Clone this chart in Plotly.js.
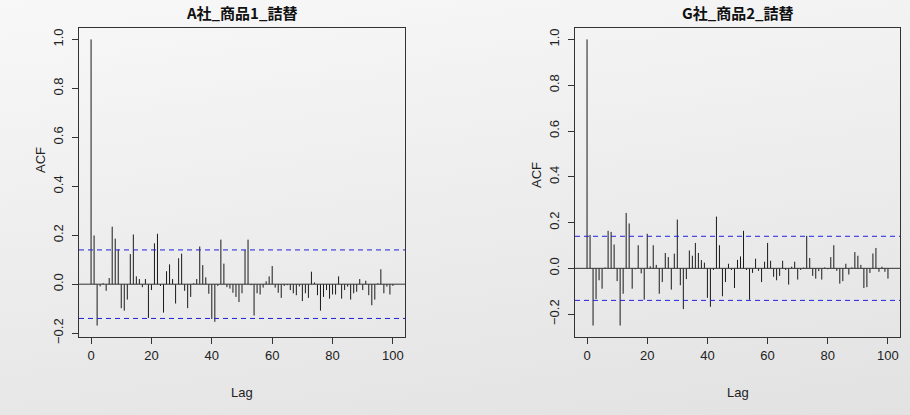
<!DOCTYPE html>
<html>
<head>
<meta charset="utf-8">
<script src="https://cdn.plot.ly/plotly-3.0.1.min.js"></script>
<style>
  html, body { margin: 0; padding: 0; }
  body { width: 910px; height: 415px; background: linear-gradient(172deg, #f8f8f8 0%, #eeeeee 45%, #e2e2e2 100%); }
  #chart { width: 910px; height: 415px; }
</style>
</head>
<body>
<div id="chart"></div>
<script>
// ---- data ----
const titles = ["A社_商品1_詰替", "G社_商品2_詰替"];
const maxLag = 100;
const lags = [];
for (let i = 0; i <= maxLag; i++) lags.push(i);

const acfA = [
  1.0, 0.199, -0.169, -0.009, 0.004, -0.027, 0.025, 0.235, 0.186, 0.142,
  -0.098, -0.108, -0.063, 0.123, 0.203, 0.032, 0.021, -0.012, 0.021, -0.138,
  -0.024, 0.167, 0.206, -0.007, -0.116, 0.053, 0.081, 0.021, -0.079, 0.106,
  0.125, -0.027, -0.098, -0.052, 0.004, 0.021, 0.154, 0.078, 0.028, -0.039,
  -0.142, -0.154, -0.007, 0.182, 0.084, -0.012, -0.018, -0.035, -0.052, -0.073,
  -0.037, 0.14, 0.182, -0.004, -0.128, -0.037, -0.042, -0.014, 0.012, 0.032,
  0.074, -0.014, -0.035, -0.056, -0.007, -0.004, -0.024, -0.037, -0.045, -0.009,
  -0.069, -0.037, -0.056, 0.051, 0.007, -0.045, -0.108, -0.052, -0.024, -0.059,
  -0.042, -0.042, 0.032, -0.059, -0.024, -0.01, -0.063, -0.037, -0.031, 0.021,
  -0.024, 0.014, -0.045, -0.086, -0.063, 0.004, 0.061, -0.037, -0.01, -0.042,
  -0.007
];
const acfG = [
  1.0, 0.146, -0.25, -0.134, -0.052, -0.089, 0.004, 0.164, 0.159, 0.104,
  -0.056, -0.25, -0.111, 0.242, 0.196, -0.089, -0.004, 0.101, -0.022, -0.137,
  0.151, 0.009, 0.101, 0.015, -0.111, -0.06, 0.067, 0.049, -0.093, 0.064,
  0.213, -0.074, -0.178, -0.047, 0.078, 0.055, 0.111, 0.067, 0.036, 0.025,
  -0.129, -0.168, -0.007, 0.226, 0.101, -0.122, -0.06, 0.02, -0.007, -0.086,
  0.037, 0.052, 0.164, -0.007, -0.137, -0.02, 0.042, -0.011, -0.06, 0.029,
  0.111, 0.033, -0.037, -0.052, -0.033, 0.033, -0.007, -0.071, 0.007, 0.029,
  -0.049, -0.007, 0.003, 0.142, 0.045, -0.033, -0.045, -0.012, -0.049, 0.004,
  -0.004, 0.049, 0.101, -0.011, -0.067, -0.056, 0.02, -0.027, 0.004, 0.071,
  0.055, 0.015, -0.086, -0.082, -0.02, 0.065, 0.089, -0.015, 0.007, -0.015,
  -0.045
];
const ciLevel = 0.14;
const yTicks = [-0.2, 0.0, 0.2, 0.4, 0.6, 0.8, 1.0];
const xTicks = [0, 20, 40, 60, 80, 100];

// ---- build ----
const FONT = "Liberation Sans, Arial, sans-serif";
const series = [acfA, acfG];
const traces = [];
const shapes = [];
const annotations = [];
const layout = {
  width: 910, height: 415,
  margin: {l: 0, r: 0, t: 0, b: 0},
  paper_bgcolor: "rgba(0,0,0,0)",
  plot_bgcolor: "rgba(0,0,0,0)",
  showlegend: false,
  font: {family: FONT, size: 13, color: "#222"}
};
const xDomains = [[79/910, 405/910], [575/910, 900/910]];
const yDomain = [(415-337)/415, (415-28)/415];
const acfLabelY = [(415-160)/415, (415-175)/415];

series.forEach((vals, k) => {
  const xs = [], ys = [];
  lags.forEach((l, i) => { xs.push(l, l, null); ys.push(0, vals[i], null); });
  const sfx = k === 0 ? "" : "2";
  traces.push({
    x: xs, y: ys, type: "scatter", mode: "lines",
    line: {color: "#1a1a1a", width: 1},
    xaxis: "x" + sfx, yaxis: "y" + sfx, hoverinfo: "skip"
  });
  const lo = Math.min(...vals, -ciLevel), hi = Math.max(...vals, ciLevel);
  const yr = [lo - 0.04*(hi-lo), hi + 0.04*(hi-lo)];
  const xr = [lags[0] - 0.04*(maxLag - lags[0]), maxLag + 0.04*(maxLag - lags[0])];
  const axCommon = {
    showline: true, mirror: true, linecolor: "#333", linewidth: 1,
    ticks: "outside", ticklen: 6, tickcolor: "#333", tickwidth: 1,
    showgrid: false, zeroline: false, fixedrange: true,
    tickfont: {family: FONT, size: 13, color: "#222"}
  };
  layout["xaxis" + sfx] = Object.assign({}, axCommon, {
    domain: xDomains[k], range: xr, tickvals: xTicks, anchor: "y" + sfx
  });
  layout["yaxis" + sfx] = Object.assign({}, axCommon, {
    domain: yDomain, range: yr, tickvals: yTicks, tickformat: ".1f",
    tickangle: -90, anchor: "x" + sfx, ticklabelstandoff: 4
  });
  const xd = "x" + sfx + " domain", yref = "y" + sfx;
  shapes.push({type: "line", xref: xd, yref: yref, x0: 0, x1: 1, y0: 0, y1: 0,
               line: {color: "#333", width: 1}});
  [ciLevel, -ciLevel].forEach(c => shapes.push({
    type: "line", xref: xd, yref: yref, x0: 0, x1: 1, y0: c, y1: c,
    line: {color: "#2222dd", width: 1, dash: "5px,4px"}
  }));
  annotations.push({
    text: "<b>" + titles[k] + "</b>", xref: xd, yref: "paper", x: 0.5, y: (415-13)/415,
    xanchor: "center", yanchor: "middle", showarrow: false,
    font: {family: "Noto Sans CJK JP, sans-serif", size: 15, color: "#111"}
  });
  annotations.push({
    text: "Lag", xref: xd, yref: "y" + sfx + " domain", x: 0.5, y: 0, yshift: -55,
    xanchor: "center", yanchor: "middle", showarrow: false,
    font: {family: FONT, size: 13, color: "#222"}
  });
  annotations.push({
    text: "ACF", xref: xd, yref: "paper", x: 0, xshift: -39, y: acfLabelY[k],
    xanchor: "center", yanchor: "middle", textangle: -90, showarrow: false,
    font: {family: FONT, size: 13, color: "#222"}
  });
});
layout.shapes = shapes;
layout.annotations = annotations;

Plotly.newPlot("chart", traces, layout, {staticPlot: true, displayModeBar: false});
</script>
</body>
</html>
